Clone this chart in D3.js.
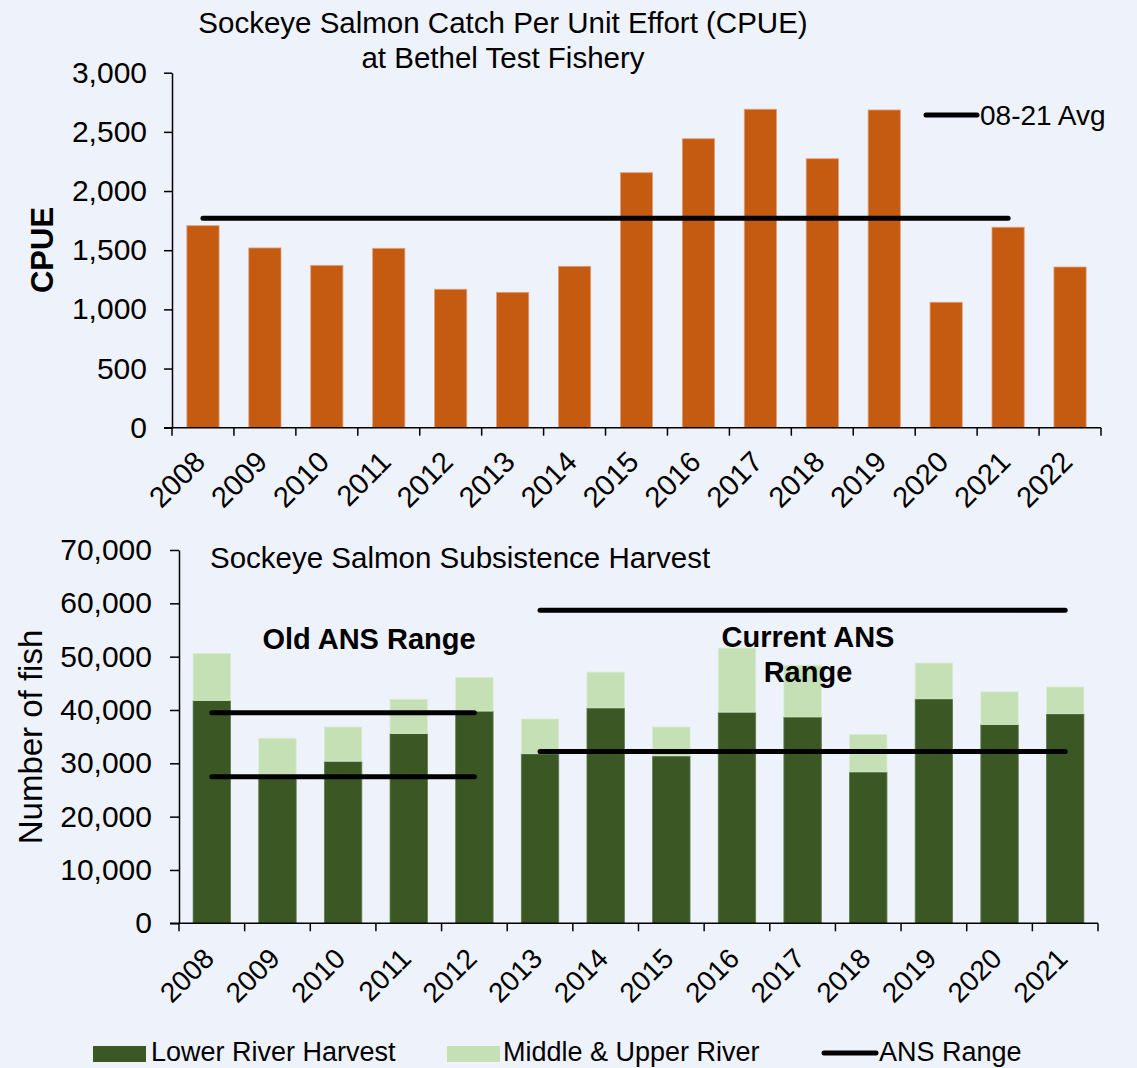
<!DOCTYPE html>
<html>
<head>
<meta charset="utf-8">
<script src="https://cdn.jsdelivr.net/npm/d3@7/dist/d3.min.js"></script>
<style>
  html, body { margin: 0; padding: 0; background: #eef2fa; }
  svg { display: block; font-family: "Liberation Sans", Arial, sans-serif; }
</style>
</head>
<body>
<svg id="chart" width="1137" height="1068"></svg>
<script>
// ---------- Top chart data: Sockeye CPUE at Bethel Test Fishery ----------
const cpueYears = ["2008","2009","2010","2011","2012","2013","2014","2015","2016","2017","2018","2019","2020","2021","2022"];
const cpueValues = [1707, 1519, 1372, 1516, 1170, 1144, 1364, 2155, 2442, 2691, 2273, 2685, 1060, 1694, 1358];
const cpueAvgValue = 1771;
const cpueAvgSpan = ["2008", "2021"];
const cpueTicks = [0, 500, 1000, 1500, 2000, 2500, 3000];

// ---------- Bottom chart data: Sockeye subsistence harvest ----------
const harvestYears = ["2008","2009","2010","2011","2012","2013","2014","2015","2016","2017","2018","2019","2020","2021"];
const lowerRiver  = [41800, 27400, 30400, 35600, 39800, 31800, 40400, 31400, 39600, 38700, 28400, 42100, 37300, 39300];
const middleUpper = [ 8800,  7300,  6400,  6400,  6300,  6500,  6700,  5400, 12000,  9700,  7000,  6700,  6100,  5000];
const harvestTicks = [0, 10000, 20000, 30000, 40000, 50000, 60000, 70000];
const oldANS = [27500, 39500];
const oldANSSpan = ["2008", "2012"];
const currentANS = [32200, 58700];
const currentANSSpan = ["2013", "2021"];

const legendLabels = ["Lower River Harvest", "Middle & Upper River", "ANS Range"];

const C = {
  orange: "#c55a11",
  orangeEdge: "#e0a07a",
  dark: "#3a5724",
  light: "#c5e0b4",
  lightEdge: "#d8ecd0",
  ink: "#000"
};

const svg = d3.select("#chart");
const fmt = d3.format(",");

function boundaryTicks(g, x, y0) {
  const half = x.step() / 2;
  const bounds = x.domain().map(d => x(d) + x.bandwidth() / 2 - half);
  const last = x.domain()[x.domain().length - 1];
  bounds.push(x(last) + x.bandwidth() / 2 + half);
  g.selectAll("line.btick").data(bounds).join("line")
    .attr("class", "btick")
    .attr("x1", d => d).attr("x2", d => d)
    .attr("y1", y0).attr("y2", y0 + 8)
    .attr("stroke", C.ink).attr("stroke-width", 1.5);
}

function styleAxis(g) {
  g.selectAll("path.domain").attr("stroke", C.ink).attr("stroke-width", 1.5);
  g.selectAll(".tick line").attr("stroke", C.ink).attr("stroke-width", 1.5);
}

// ======================= TOP CHART =======================
{
  const x = d3.scaleBand().domain(cpueYears).range([172, 1101]).paddingInner(0.48).paddingOuter(0.24);
  const y = d3.scaleLinear().domain([0, 3000]).range([427.7, 72.7]);
  const g = svg.append("g");

  g.selectAll("rect.bar").data(cpueYears).join("rect")
    .attr("x", (d) => x(d))
    .attr("y", (d, i) => y(cpueValues[i]))
    .attr("width", x.bandwidth())
    .attr("height", (d, i) => y(0) - y(cpueValues[i]))
    .attr("fill", C.orange)
    .attr("stroke", C.orangeEdge).attr("stroke-width", 0.8);

  // y axis
  const ya = g.append("g").attr("transform", `translate(${x.range()[0]},0)`)
    .call(d3.axisLeft(y).tickValues(cpueTicks).tickFormat(fmt).tickSize(8).tickSizeOuter(0).tickPadding(17));
  styleAxis(ya);
  ya.selectAll("text").attr("font-size", 30).attr("fill", C.ink);

  // x axis
  const xa = g.append("g").attr("transform", `translate(0,${y(0)})`)
    .call(d3.axisBottom(x).tickSize(0).tickSizeOuter(0).tickPadding(0));
  styleAxis(xa);
  xa.selectAll("path.domain").attr("d", `M${x.range()[0] - 8},0H${x.range()[1]}`);
  xa.selectAll("text")
    .attr("font-size", 29).attr("fill", C.ink)
    .attr("text-anchor", "end")
    .attr("dy", null)
    .attr("transform", "translate(4,36) rotate(-45)");
  boundaryTicks(g, x, y(0));

  // average line
  g.append("line")
    .attr("x1", x(cpueAvgSpan[0]) + x.bandwidth() / 2)
    .attr("x2", x(cpueAvgSpan[1]) + x.bandwidth() / 2)
    .attr("y1", y(cpueAvgValue)).attr("y2", y(cpueAvgValue))
    .attr("stroke", C.ink).attr("stroke-width", 5).attr("stroke-linecap", "round");

  // legend
  g.append("line").attr("x1", 926).attr("x2", 977).attr("y1", 115).attr("y2", 115)
    .attr("stroke", C.ink).attr("stroke-width", 5).attr("stroke-linecap", "round");
  g.append("text").attr("x", 980).attr("y", 125).attr("font-size", 28).text("08-21 Avg");

  // title
  g.append("text").attr("x", 503).attr("y", 33).attr("text-anchor", "middle").attr("font-size", 29.5)
    .text("Sockeye Salmon Catch Per Unit Effort (CPUE)");
  g.append("text").attr("x", 503).attr("y", 68).attr("text-anchor", "middle").attr("font-size", 29.5)
    .text("at Bethel Test Fishery");

  // y label
  g.append("text").attr("transform", "translate(53,250) rotate(-90)")
    .attr("text-anchor", "middle").attr("font-size", 31).attr("font-weight", "bold")
    .text("CPUE");
}

// ======================= BOTTOM CHART =======================
{
  const x = d3.scaleBand().domain(harvestYears).range([179, 1098]).paddingInner(0.43).paddingOuter(0.215);
  const y = d3.scaleLinear().domain([0, 70000]).range([923.3, 550]);
  const g = svg.append("g");

  const stackData = harvestYears.map((yr, i) => ({ year: yr, lower: lowerRiver[i], middle: middleUpper[i] }));
  const series = d3.stack().keys(["lower", "middle"])(stackData);
  const colors = { lower: C.dark, middle: C.light };
  const edges = { lower: "#5d7a48", middle: C.lightEdge };

  g.selectAll("g.series").data(series).join("g")
    .attr("fill", s => colors[s.key])
    .attr("stroke", s => edges[s.key]).attr("stroke-width", 0.8)
    .selectAll("rect").data(s => s).join("rect")
    .attr("x", d => x(d.data.year))
    .attr("y", d => y(d[1]))
    .attr("width", x.bandwidth())
    .attr("height", d => y(d[0]) - y(d[1]));

  const ya = g.append("g").attr("transform", `translate(${x.range()[0]},0)`)
    .call(d3.axisLeft(y).tickValues(harvestTicks).tickFormat(fmt).tickSize(9).tickSizeOuter(0).tickPadding(18));
  styleAxis(ya);
  ya.selectAll("text").attr("font-size", 30).attr("fill", C.ink);

  const xa = g.append("g").attr("transform", `translate(0,${y(0)})`)
    .call(d3.axisBottom(x).tickSize(0).tickSizeOuter(0).tickPadding(0));
  styleAxis(xa);
  xa.selectAll("path.domain").attr("d", `M${x.range()[0] - 9},0H${x.range()[1]}`);
  xa.selectAll("text")
    .attr("font-size", 28).attr("fill", C.ink)
    .attr("text-anchor", "end")
    .attr("dy", null)
    .attr("transform", "translate(4,37) rotate(-45)");
  boundaryTicks(g, x, y(0));

  // ANS range lines
  const ansLines = [
    { v: oldANS[0], span: oldANSSpan }, { v: oldANS[1], span: oldANSSpan },
    { v: currentANS[0], span: currentANSSpan }, { v: currentANS[1], span: currentANSSpan }
  ];
  g.selectAll("line.ans").data(ansLines).join("line")
    .attr("class", "ans")
    .attr("x1", d => x(d.span[0]) + x.bandwidth() / 2)
    .attr("x2", d => x(d.span[1]) + x.bandwidth() / 2)
    .attr("y1", d => y(d.v)).attr("y2", d => y(d.v))
    .attr("stroke", C.ink).attr("stroke-width", 5).attr("stroke-linecap", "round");

  // annotations
  g.append("text").attr("x", 369).attr("y", 649).attr("text-anchor", "middle")
    .attr("font-size", 29).attr("font-weight", "bold").text("Old ANS Range");
  g.append("text").attr("x", 808).attr("y", 647).attr("text-anchor", "middle")
    .attr("font-size", 29).attr("font-weight", "bold").text("Current ANS");
  g.append("text").attr("x", 808).attr("y", 682).attr("text-anchor", "middle")
    .attr("font-size", 29).attr("font-weight", "bold").text("Range");

  // title
  g.append("text").attr("x", 210).attr("y", 568).attr("font-size", 29.5)
    .text("Sockeye Salmon Subsistence Harvest");

  // y label
  g.append("text").attr("transform", "translate(42,737) rotate(-90)")
    .attr("text-anchor", "middle").attr("font-size", 33)
    .text("Number of fish");

  // legend
  const lg = svg.append("g");
  lg.append("rect").attr("x", 93).attr("y", 1046).attr("width", 53).attr("height", 16).attr("fill", C.dark);
  lg.append("text").attr("x", 151).attr("y", 1061).attr("font-size", 27).text(legendLabels[0]);
  lg.append("rect").attr("x", 447).attr("y", 1046).attr("width", 53).attr("height", 16).attr("fill", C.light);
  lg.append("text").attr("x", 503).attr("y", 1061).attr("font-size", 27).text(legendLabels[1]);
  lg.append("line").attr("x1", 824).attr("x2", 876).attr("y1", 1053).attr("y2", 1053)
    .attr("stroke", C.ink).attr("stroke-width", 5).attr("stroke-linecap", "round");
  lg.append("text").attr("x", 879).attr("y", 1061).attr("font-size", 27).text(legendLabels[2]);
}
</script>
</body>
</html>
